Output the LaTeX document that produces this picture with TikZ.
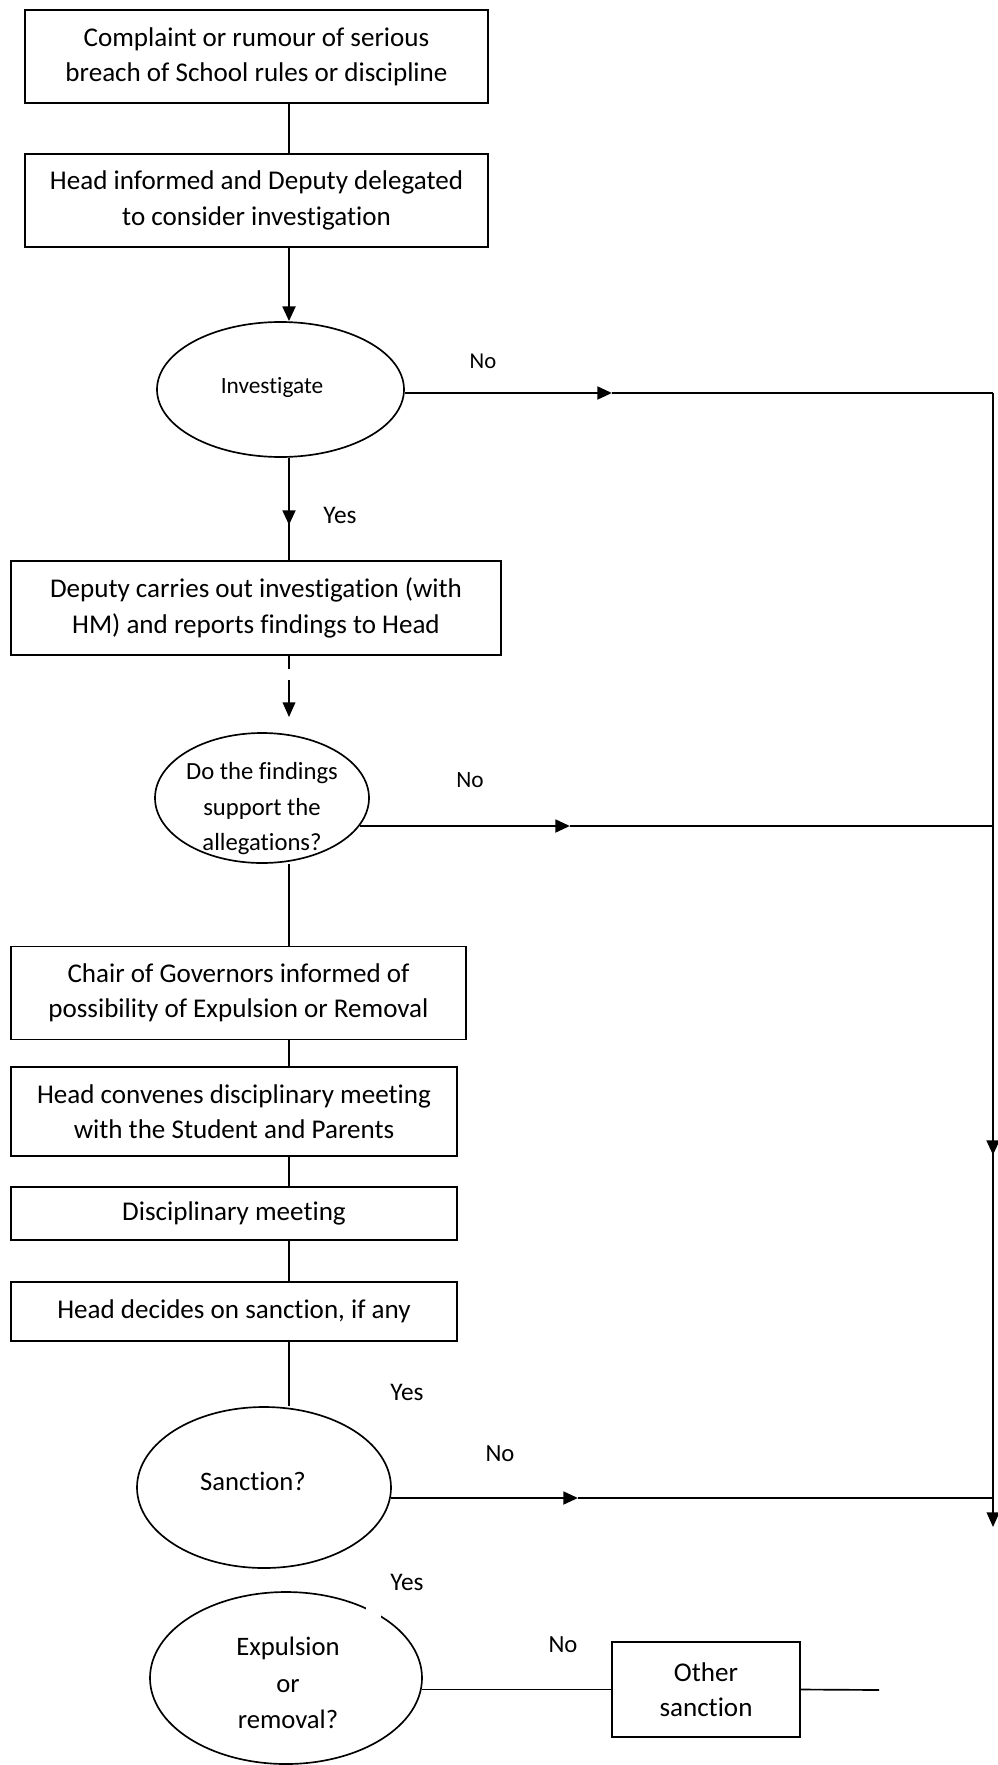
\documentclass[tikz,border=0pt]{standalone}
\usepackage{fontspec}
\setmainfont{Carlito}[Ligatures=NoCommon]
\usetikzlibrary{shapes.geometric,arrows.meta}
\begin{document}
\begin{tikzpicture}[x=0.75pt,y=-0.75pt,
  stepbox/.style={draw,line width=1.25pt,align=center,inner sep=0pt,font=\fontsize{20.3}{26.5}\selectfont},
  decision/.style={draw,ellipse,line width=1.25pt,inner sep=0pt},
  dtext/.style={align=center,inner sep=0pt,font=\fontsize{20}{27.5}\selectfont},
  thinline/.style={line width=1.25pt},
  tipped/.style={-{Triangle[length=11pt,width=9.5pt]}},
  thickarrow/.style={line width=2.1pt,tipped},
  lbl/.style={inner sep=0pt,font=\fontsize{19}{23}\selectfont}]
\useasboundingbox (0,0) rectangle (997,1765);

% boxes
\node[stepbox,minimum width=347.25pt,minimum height=69.75pt] (b1) at (256.5,56.5) {Complaint or rumour of serious\\breach of School rules or discipline};
\node[stepbox,minimum width=347.25pt,minimum height=69.75pt] (b2) at (256.5,200.5) {Head informed and Deputy delegated\\to consider investigation};
\node[stepbox,minimum width=367.5pt,minimum height=70.5pt] (b3) at (256,608) {Deputy carries out investigation (with\\HM) and reports findings to Head};
\node[stepbox,minimum width=341.25pt,minimum height=69.75pt] (b4) at (238.5,993) {Chair of Governors informed of\\possibility of Expulsion or Removal};
\node[stepbox,minimum width=334.5pt,minimum height=66.75pt] (b5) at (234,1111.5) {Head convenes disciplinary meeting\\with the Student and Parents};
\node[stepbox,minimum width=334.5pt,minimum height=39.75pt] (b6) at (234,1213.5) {Disciplinary meeting};
\node[stepbox,minimum width=334.5pt,minimum height=44.25pt] (b7) at (234,1311.5) {Head decides on sanction, if any};
\node[stepbox,minimum width=141pt,minimum height=71.25pt] (b8) at (706,1689.5) {Other\\sanction};

% decisions
\node[decision,minimum width=185.25pt,minimum height=101.25pt] (e1) at (280.5,389.5) {};
\node[dtext,font=\fontsize{17.5}{22}\selectfont] (e1t) at (272,387) {Investigate};
\node[decision,minimum width=160.5pt,minimum height=97.5pt] (e2) at (262,798) {};
\node[dtext,font=\fontsize{18.5}{26.6}\selectfont] (e2t) at (262,809) {Do the findings\\support the\\allegations?};
\node[decision,minimum width=190.5pt,minimum height=120.75pt] (e3) at (264,1487.5) {};
\node[dtext] (e3t) at (253,1481) {Sanction?};
\node[decision,minimum width=204pt,minimum height=129pt] (e4) at (286,1678) {};
\node[dtext] (e4t) at (288,1683) {Expulsion\\or\\removal?};
\fill[white] (366,1604) rectangle (381,1621);

% labels
\node[lbl,font=\fontsize{17}{20}\selectfont] (no1) at (483,361) {No};
\node[lbl,font=\fontsize{17.5}{20}\selectfont] (no2) at (470,780) {No};
\node[lbl,font=\fontsize{18.5}{20}\selectfont] (no3) at (500,1454) {No};
\node[lbl,font=\fontsize{18.5}{20}\selectfont] (no4) at (563,1645) {No};
\node[lbl] (yes1) at (340,515) {Yes};
\node[lbl] (yes2) at (407,1392) {Yes};
\node[lbl] (yes3) at (407,1582) {Yes};

% coordinates
\coordinate (sx) at (289,0);
\coordinate (a1) at (612,393);
\coordinate (r1) at (993,393);
\coordinate (a2) at (570,826);
\coordinate (r2) at (993,826);
\coordinate (a3) at (578,1498);
\coordinate (r3) at (993,1498);
\coordinate (rt1) at (993,1022);
\coordinate (rt2) at (993,1155);
\coordinate (rb) at (993,1527);
\coordinate (y1a) at (289,488);
\coordinate (y1b) at (289,525);
\coordinate (d1) at (289,669);
\coordinate (d2) at (289,680);
\coordinate (d3) at (289,717);
\coordinate (tail) at (879,1690);

% spine
\draw[thinline] (b1.south -| sx) -- (b2.north -| sx);
\draw[thickarrow] (b2.south -| sx) -- (sx |- e1.north);
\draw[thinline] (sx |- e1.south) -- (b3.north -| sx);
\draw[thickarrow] (y1a) -- (y1b);
\draw[thinline] (b3.south -| sx) -- (d1);
\draw[thinline,tipped] (d2) -- (d3);
\draw[thinline] (sx |- e2.south) -- (b4.north -| sx);
\draw[thinline] (b4.south -| sx) -- (b5.north -| sx);
\draw[thinline] (b5.south -| sx) -- (b6.north -| sx);
\draw[thinline] (b6.south -| sx) -- (b7.north -| sx);
\draw[thinline] (b7.south -| sx) -- (sx |- e3.north);

% No branches
\draw[thickarrow] (e1.east |- a1) -- (a1);
\draw[thinline] (a1) -- (r1);
\draw[thickarrow] (e2.-16 |- a2) -- (a2);
\draw[thinline] (a2) -- (r2);
\draw[thickarrow] (e3.-5 |- a3) -- (a3);
\draw[thinline] (a3) -- (r3);

% right rail
\draw[thinline,tipped] (r1) -- (rb);
\draw[thickarrow] (rt1) -- (rt2);

% bottom
\draw[thinline] (e4.-5 |- b8.west) -- (b8.west);
\draw[thinline] (b8.east) -- (tail);
\end{tikzpicture}
\end{document}
